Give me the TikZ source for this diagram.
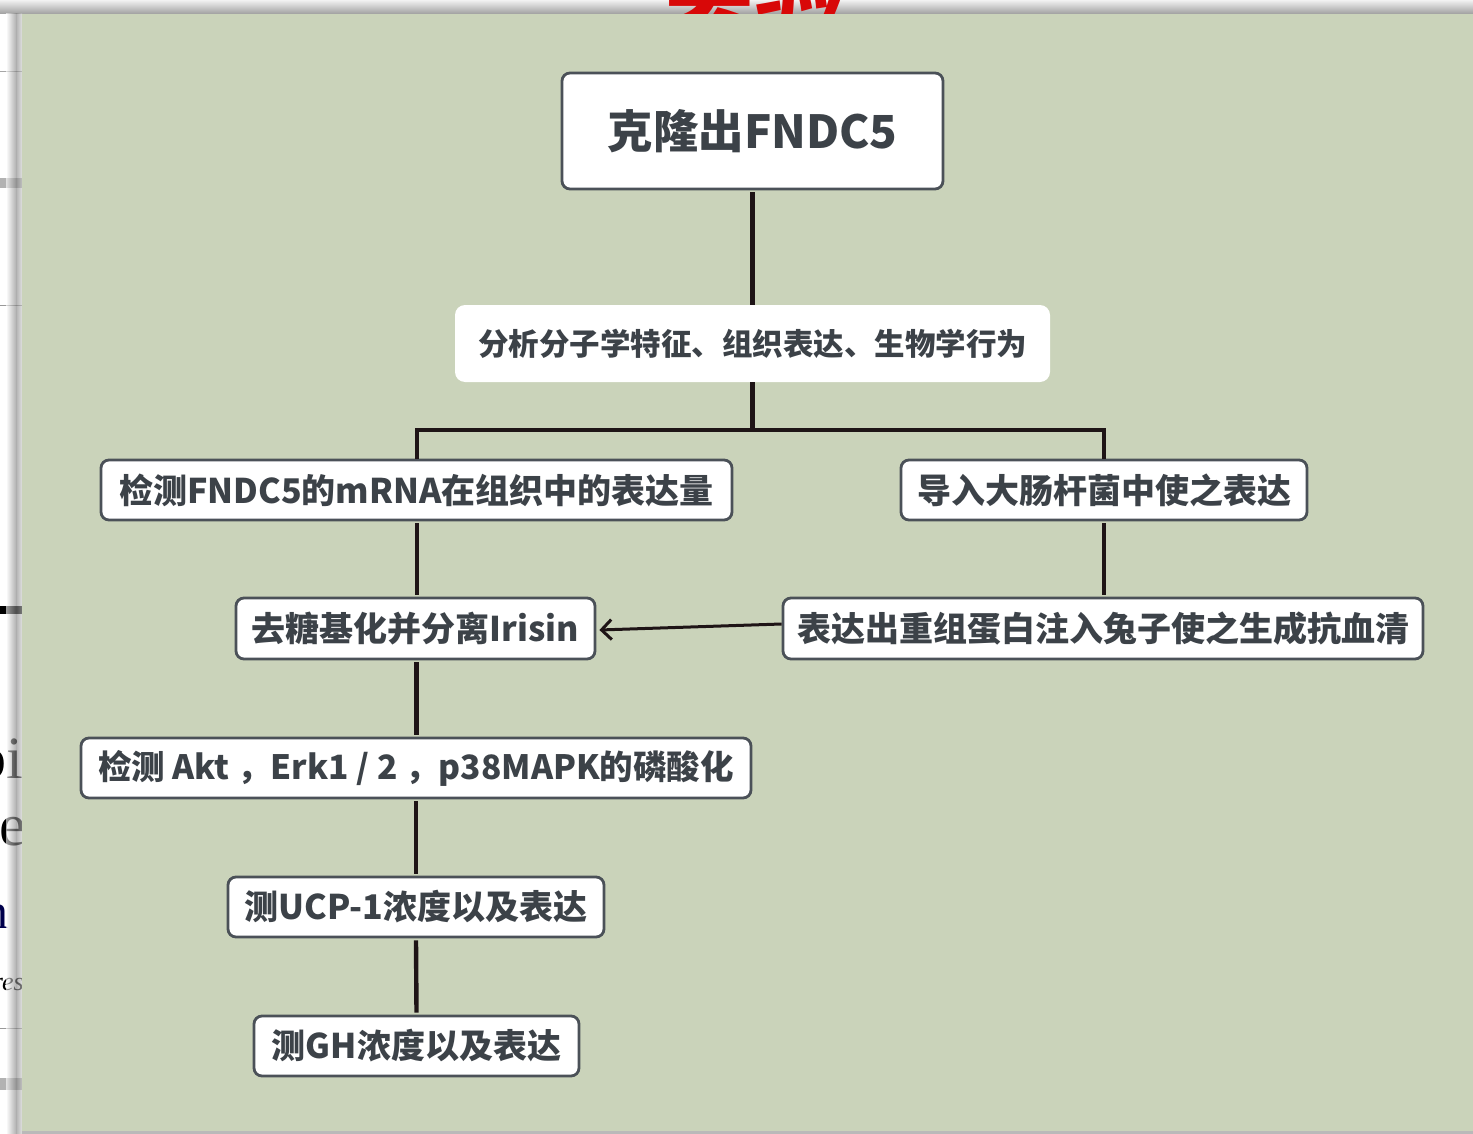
\documentclass[tikz,border=0pt]{standalone}
\usepackage{fontspec}
\setmainfont{Noto Sans CJK SC}
\newfontfamily\fragserif{Liberation Serif}
\usetikzlibrary{arrows.meta}
\definecolor{panel}{HTML}{CAD3BA}
\definecolor{txt}{HTML}{3C4248}
\definecolor{bord}{HTML}{4B5158}
\definecolor{conn}{HTML}{1E1416}
\definecolor{titlered}{HTML}{D80808}
\begin{document}
\begin{tikzpicture}[x=1pt,y=-1pt,
  box/.style={draw=bord, line width=2.8pt, fill=white, rounded corners=8pt,
    inner sep=0pt, text=txt, font=\fontsize{34}{40}\selectfont\bfseries},
  plainbox/.style={fill=white, rounded corners=10pt, inner sep=0pt, text=txt,
    font=\fontsize{30.5}{36}\selectfont\bfseries},
  conn/.style={draw=conn, line width=4.4pt},
  arrowconn/.style={draw=conn, line width=3pt, -{Straight Barb[length=10pt,width=20pt,line width=3pt]}},
]
\useasboundingbox (0,0) rectangle (1473,1134);
% ---- background (slide behind the panel) ----
\fill[white] (0,0) rectangle (1473,1134);
\shade[top color=gray!10, bottom color=gray!75] (0,0) rectangle (1473,14);
\node[anchor=base, text=titlered, font=\fontsize{92}{92}\selectfont\bfseries] (title) at (755,22) {实验};
% left strip fragments
\begin{scope}
  \clip (0,14) rectangle (22,1134);
  \draw[gray!70, line width=1pt] (0,72) -- (22,72);
  \fill[gray!60] (0,178) rectangle (22,188);
  \draw[gray!80, line width=1pt] (0,305) -- (22,305);
  \fill[black] (0,606) rectangle (22,614);
  \node[anchor=base east, font=\fragserif\fontsize{60}{60}\selectfont, inner sep=0pt] (fragA) at (23,778) {bi};
  \node[anchor=base east, font=\fragserif\fontsize{60}{60}\selectfont, inner sep=0pt] (fragB) at (26,845) {e};
  \node[anchor=base east, font=\fragserif\fontsize{50}{50}\selectfont, inner sep=0pt, text=blue!30!black] (fragC) at (9,928) {n};
  \node[anchor=base east, font=\fragserif\itshape\fontsize{26}{26}\selectfont, inner sep=0pt] (fragD) at (24,990) {res};
  \draw[gray!80, line width=1pt] (0,1028) -- (22,1028);
  \fill[gray!60] (0,1078) rectangle (22,1090);
  \shade[left color=white, right color=gray, opacity=0.6] (6,14) rectangle (16,1134);
  \shade[left color=gray, right color=gray!40, opacity=0.6] (16,14) rectangle (22,1134);
\end{scope}
% ---- panel ----
\fill[panel] (22,14) rectangle (1473,1131);
\fill[gray!55] (22,1131) rectangle (1473,1134);
% ---- nodes ----
\node[box, minimum width=381pt, minimum height=116pt, font=\fontsize{45.5}{52}\selectfont\bfseries] (b1) at (752.5,131) {克隆出FNDC5};
\node[plainbox, minimum width=595pt, minimum height=77pt] (b2) at (752.5,343.5) {分析分子学特征、组织表达、生物学行为};
\node[box, minimum width=631pt, minimum height=60pt] (b3) at (416.5,490) {检测FNDC5的mRNA在组织中的表达量};
\node[box, minimum width=406pt, minimum height=60pt] (b4) at (1104,490) {导入大肠杆菌中使之表达};
\node[box, minimum width=359pt, minimum height=61pt] (b5) at (415.5,628.5) {去糖基化并分离Irisin};
\node[box, minimum width=640pt, minimum height=61pt] (b6) at (1103,628.5) {表达出重组蛋白注入兔子使之生成抗血清};
\node[box, minimum width=670pt, minimum height=60pt, font=\fontsize{33.5}{40}\selectfont\bfseries] (b7) at (416,768) {检测 Akt ，Erk1 / 2 ，p38MAPK的磷酸化};
\node[box, minimum width=376pt, minimum height=60pt] (b8) at (416,907) {测UCP-1浓度以及表达};
\node[box, minimum width=325pt, minimum height=60pt] (b9) at (416.5,1046) {测GH浓度以及表达};
% ---- connectors ----
\draw[conn] ([yshift=-2pt]b1.south) -- (b2.north);
\draw[conn] (b2.south) -- ++(0,48) coordinate (bus);
\draw[conn] ([xshift=0.5pt]b3.north) |- (bus) -| (b4.north);
\draw[conn] ([xshift=0.5pt,yshift=-2pt]b3.south) -- ([xshift=0.5pt,yshift=2pt]b3.south |- b5.north);
\draw[conn] ([yshift=-2pt]b4.south) -- ([yshift=2pt]b4.south |- b6.north);
\draw[conn] ([xshift=1pt,yshift=-2pt]b5.south) -- ([xshift=1pt,yshift=2pt]b5.south |- b7.north);
\draw[conn] ([yshift=-2pt]b7.south) -- ([yshift=2pt]b8.north);
\draw[conn] ([yshift=-2pt]b8.south) -- ([yshift=2pt]b9.north);
\draw[arrowconn] ([yshift=4.5pt]b6.west) -- ([xshift=3pt,yshift=-1.5pt]b5.east);
\end{tikzpicture}
\end{document}
